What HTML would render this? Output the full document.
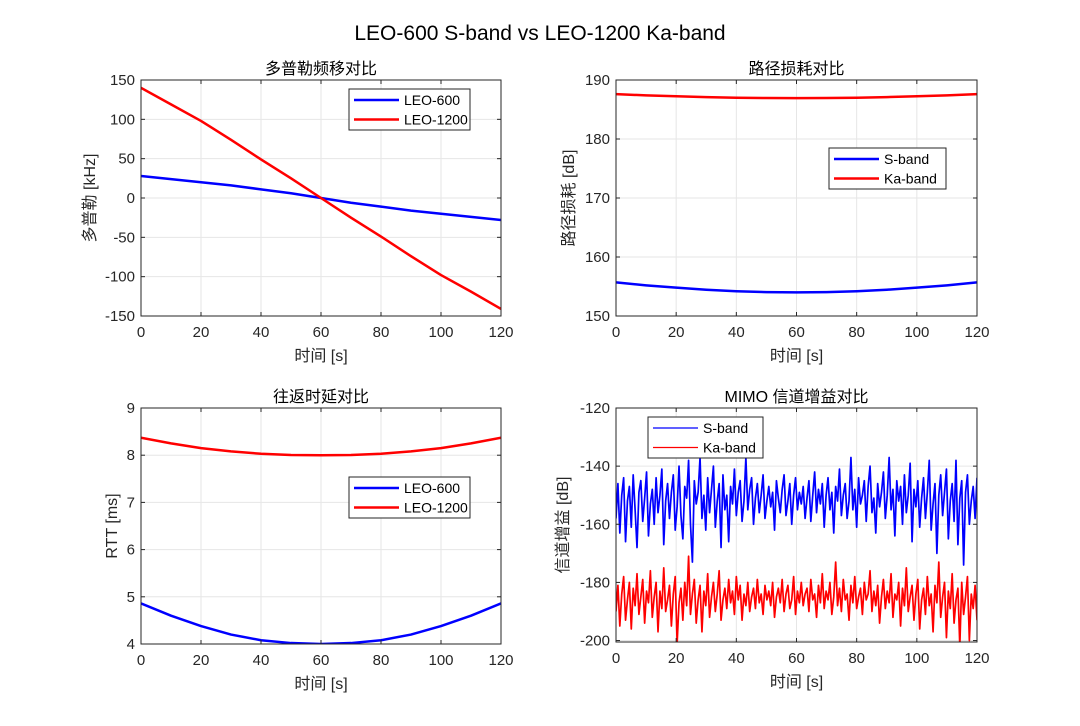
<!DOCTYPE html>
<html><head><meta charset="utf-8"><style>
html,body{margin:0;padding:0;background:#fff;}
svg text{font-family:"Liberation Sans","Noto Sans CJK SC",sans-serif;}
</style></head><body>
<svg id="fig" width="1080" height="721" xmlns="http://www.w3.org/2000/svg">
<rect width="1080" height="721" fill="#fff"/>
<text x="540" y="40" font-size="21" text-anchor="middle" fill="#000">LEO-600 S-band vs LEO-1200 Ka-band</text>
</svg>
<script>
const timeTicks=[0,20,40,60,80,100,120];
const tSmooth=[0,10,20,30,40,50,60,70,80,90,100,110,120];
const doppler600=[28,24,20,16,11,6,0,-6,-11,-16,-20,-24,-28];
const doppler1200=[140,119,98,74,49,25,0,-25,-49,-74,-98,-119,-141];
const pathS=[155.7,155.2,154.8,154.45,154.2,154.05,154.0,154.05,154.2,154.45,154.8,155.2,155.7];
const pathKa=[187.6,187.4,187.25,187.1,187.0,186.95,186.93,186.95,187.0,187.1,187.25,187.4,187.6];
const rtt600=[4.86,4.6,4.38,4.2,4.08,4.02,4.0,4.02,4.08,4.2,4.38,4.6,4.86];
const rtt1200=[8.37,8.25,8.15,8.08,8.03,8.005,8.0,8.005,8.03,8.08,8.15,8.25,8.37];
const gainS=[-158,-146,-163,-150,-144,-166,-152,-147,-161,-143,-155,-168,-149,-145,-159,-151,-142,-164,-153,-148,
-160,-144,-156,-150,-141,-167,-152,-146,-158,-149,-143,-162,-154,-140,-157,-165,-147,-151,-138,-160,
-173,-145,-153,-149,-137,-158,-150,-162,-144,-156,-148,-140,-161,-152,-146,-168,-143,-155,-150,-166,
-147,-153,-141,-157,-149,-145,-159,-152,-137,-155,-148,-144,-160,-151,-146,-156,-150,-143,-158,-152,
-147,-154,-149,-162,-145,-151,-156,-148,-143,-157,-152,-146,-160,-150,-144,-155,-149,-153,-147,-158,
-151,-145,-159,-150,-142,-156,-148,-153,-146,-161,-150,-144,-155,-149,-163,-147,-152,-141,-157,-150,
-146,-158,-152,-137,-155,-148,-161,-144,-153,-150,-145,-159,-147,-140,-156,-151,-163,-146,-154,-149,
-142,-158,-150,-137,-155,-148,-164,-145,-152,-147,-160,-143,-156,-150,-139,-166,-148,-154,-145,-161,
-151,-144,-158,-149,-138,-162,-153,-146,-170,-150,-143,-157,-149,-141,-165,-152,-146,-159,-138,-167,
-151,-145,-174,-149,-143,-160,-152,-147,-158,-144];
const gainKa=[-190,-181,-195,-184,-178,-193,-186,-180,-196,-182,-188,-177,-191,-185,-179,-194,-183,-187,-176,-192,
-185,-180,-197,-183,-189,-175,-190,-186,-181,-195,-184,-178,-201,-187,-182,-193,-180,-188,-171,-191,
-184,-179,-194,-186,-181,-197,-183,-188,-177,-192,-185,-180,-190,-184,-176,-193,-186,-182,-189,-179,
-187,-183,-191,-178,-186,-181,-193,-184,-188,-180,-190,-185,-182,-189,-179,-187,-184,-191,-181,-186,
-183,-188,-180,-192,-185,-182,-187,-179,-190,-184,-181,-189,-186,-178,-191,-183,-187,-180,-188,-184,
-182,-190,-179,-186,-184,-192,-181,-187,-177,-189,-183,-186,-180,-191,-185,-173,-188,-182,-190,-179,
-186,-184,-193,-181,-187,-178,-189,-185,-182,-191,-180,-186,-184,-176,-190,-183,-188,-181,-194,-185,
-179,-189,-183,-187,-177,-192,-184,-186,-180,-195,-182,-188,-175,-190,-185,-181,-193,-184,-179,-196,
-186,-182,-191,-178,-188,-184,-197,-181,-187,-173,-192,-185,-180,-199,-183,-189,-177,-194,-186,-182,
-202,-180,-191,-185,-178,-200,-184,-189,-181,-193];
const ticksDop=[150,100,50,0,-50,-100,-150];
const ticksPath=[190,180,170,160,150];
const ticksRtt=[9,8,7,6,5,4];
const ticksGain=[-120,-140,-160,-180,-200];

const NS='http://www.w3.org/2000/svg';
const svg=document.getElementById('fig');
function mk(tag,attrs,parent){const e=document.createElementNS(NS,tag);for(const k in attrs)e.setAttribute(k,attrs[k]);(parent||svg).appendChild(e);return e;}

function axes(o){
  const g=mk('g',{});
  
  
  const X=v=>o.x0+(v-o.xmin)/(o.xmax-o.xmin)*(o.x1-o.x0);
  const Y=v=>o.y1-(v-o.ymin)/(o.ymax-o.ymin)*(o.y1-o.y0);
  mk('rect',{x:o.x0,y:o.y0,width:o.x1-o.x0,height:o.y1-o.y0,fill:'#fff'},g);
  timeTicks.forEach(t=>{mk('line',{x1:X(t),x2:X(t),y1:o.y0,y2:o.y1,stroke:'#e6e6e6','stroke-width':1},g);});
  o.yticks.forEach(t=>{mk('line',{x1:o.x0,x2:o.x1,y1:Y(t),y2:Y(t),stroke:'#e6e6e6','stroke-width':1},g);});
  const clipId='c'+o.name;
  const cp=mk('clipPath',{id:clipId},g);mk('rect',{x:o.x0,y:o.y0,width:o.x1-o.x0,height:o.y1-o.y0},cp);
  o.series.forEach(s=>{
    const pts=s.y.map((v,i)=>X(s.x[i]).toFixed(2)+','+Y(v).toFixed(2)).join(' ');
    const p=mk('polyline',{points:pts,fill:'none',stroke:s.color,'stroke-width':s.w,'clip-path':'url(#'+clipId+')','stroke-linejoin':'round'},g);
    
    
  });
  mk('rect',{x:o.x0,y:o.y0,width:o.x1-o.x0,height:o.y1-o.y0,fill:'none',stroke:'#262626','stroke-width':1},g);
  timeTicks.forEach(t=>{
    mk('line',{x1:X(t),x2:X(t),y1:o.y1,y2:o.y1-4,stroke:'#262626'},g);
    mk('line',{x1:X(t),x2:X(t),y1:o.y0,y2:o.y0+4,stroke:'#262626'},g);
    const tx=mk('text',{x:X(t),y:o.y1+21,'font-size':15,'text-anchor':'middle',fill:'#262626'},g);tx.textContent=t;
    
    
  });
  o.yticks.forEach(t=>{
    mk('line',{x1:o.x0,x2:o.x0+4,y1:Y(t),y2:Y(t),stroke:'#262626'},g);
    mk('line',{x1:o.x1,x2:o.x1-4,y1:Y(t),y2:Y(t),stroke:'#262626'},g);
    const tx=mk('text',{x:o.x0-6,y:Y(t)+5,'font-size':15,'text-anchor':'end',fill:'#262626'},g);tx.textContent=t;
    
    
  });
  const ti=mk('text',{x:(o.x0+o.x1)/2,y:o.y0-6,'font-size':16,'text-anchor':'middle',fill:'#000'},g);ti.textContent=o.title;
  
  
  const xl=mk('text',{x:(o.x0+o.x1)/2,y:o.y1+45,'font-size':16,'text-anchor':'middle',fill:'#262626'},g);xl.textContent='时间 [s]';
  
  
  const yc=(o.y0+o.y1)/2, yx=o.x0-o.ylOff;
  const yl=mk('text',{x:yx,y:yc,'font-size':16,'text-anchor':'middle',fill:'#262626',transform:'rotate(-90 '+yx+' '+yc+')'},g);yl.textContent=o.ylabel;
  
  
  const L=o.legend;
  const lg=mk('g',{},g);
  
  
  mk('rect',{x:L.x,y:L.y,width:L.w,height:41,fill:'#fff',stroke:'#262626','stroke-width':1},lg);
  o.series.forEach((s,i)=>{
    const yy=L.y+11+i*19.5;
    mk('line',{x1:L.x+5,x2:L.x+50,y1:yy,y2:yy,stroke:s.color,'stroke-width':s.lw||s.w},lg);
    const t=mk('text',{x:L.x+55,y:yy+5,'font-size':14,fill:'#000'},lg);t.textContent=s.label;
    
    
  });
}
const gainT=gainS.map((v,i)=>i*120/(gainS.length-1));
const gainTK=gainKa.map((v,i)=>i*120/(gainKa.length-1));
axes({name:'doppler-axes',x0:141,x1:501,y0:80,y1:316,xmin:0,xmax:120,ymin:-150,ymax:150,yticks:ticksDop,title:'多普勒频移对比',ylabel:'多普勒 [kHz]',ylOff:46,
 legend:{x:349,y:89,w:121},
 series:[{name:'line-leo-600',label:'LEO-600',x:tSmooth,y:doppler600,color:'#0000ff',w:2.5},{name:'line-leo-1200',label:'LEO-1200',x:tSmooth,y:doppler1200,color:'#ff0000',w:2.5}]});
axes({name:'path-loss-axes',x0:616,x1:977,y0:80,y1:316,xmin:0,xmax:120,ymin:150,ymax:190,yticks:ticksPath,title:'路径损耗对比',ylabel:'路径损耗 [dB]',ylOff:42,
 legend:{x:829,y:148,w:117},
 series:[{name:'line-s-band',label:'S-band',x:tSmooth,y:pathS,color:'#0000ff',w:2.5},{name:'line-ka-band',label:'Ka-band',x:tSmooth,y:pathKa,color:'#ff0000',w:2.5}]});
axes({name:'rtt-axes',x0:141,x1:501,y0:408,y1:644,xmin:0,xmax:120,ymin:4,ymax:9,yticks:ticksRtt,title:'往返时延对比',ylabel:'RTT [ms]',ylOff:24,
 legend:{x:349,y:477,w:121},
 series:[{name:'line-leo-600-rtt',label:'LEO-600',x:tSmooth,y:rtt600,color:'#0000ff',w:2.5},{name:'line-leo-1200-rtt',label:'LEO-1200',x:tSmooth,y:rtt1200,color:'#ff0000',w:2.5}]});
axes({name:'mimo-gain-axes',x0:616,x1:977,y0:408,y1:642,xmin:0,xmax:120,ymin:-200.5,ymax:-120,yticks:ticksGain,title:'MIMO 信道增益对比',ylabel:'信道增益 [dB]',ylOff:48,
 legend:{x:648,y:417,w:115},
 series:[{name:'line-s-band-gain',label:'S-band',x:gainT,y:gainS,color:'#0000ff',w:1.7,lw:1.2},{name:'line-ka-band-gain',label:'Ka-band',x:gainTK,y:gainKa,color:'#ff0000',w:1.7,lw:1.2}]});
</script>
</body></html>
